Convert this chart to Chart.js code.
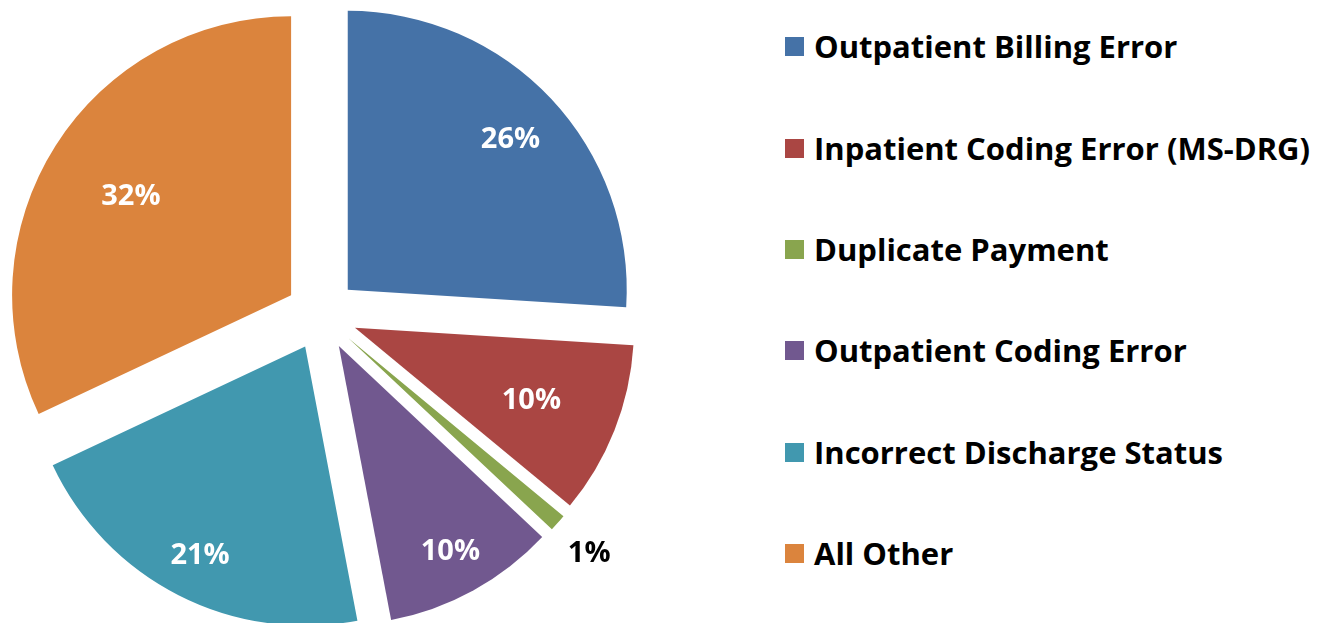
<!DOCTYPE html>
<html>
<head>
<meta charset="utf-8">
<title>Overpayment causes</title>
<script src="https://cdn.jsdelivr.net/npm/chart.js"></script>
<style>
  html, body { margin: 0; padding: 0; background: #fff; overflow: hidden; }
  #wrap { position: absolute; left: 0; top: 0; width: 700px; height: 623px; }
  #legend {
    position: absolute; left: 785px; top: -4px;
    font-family: "Open Sans", sans-serif; font-weight: 700; font-size: 31px; color: #000;
  }
  .row { height: 101.4px; display: flex; align-items: center; white-space: nowrap; line-height: 1; }
  .box { width: 19px; height: 19px; margin-right: 10px; flex: none; }
</style>
</head>
<body>
<div id="wrap"><canvas id="chart" width="700" height="623"></canvas></div>
<div id="legend"></div>

<script>
// data
const categories = [
  'Outpatient Billing Error',
  'Inpatient Coding Error (MS-DRG)',
  'Duplicate Payment',
  'Outpatient Coding Error',
  'Incorrect Discharge Status',
  'All Other'
];
const percents = [26, 10, 1, 10, 21, 32];

// styles
const colors = ['#4572A7', '#AA4643', '#89A54E', '#71588F', '#4198AF', '#DB843D'];
const labelColors = ['#fff', '#fff', '#000', '#fff', '#fff', '#fff'];
// where each % label sits, part of the radius measured from the slice tip
const labelDist = [0.80, 0.68, 1.15, 0.83, 0.83, 0.68];

const RADIUS = 279;
const OFFSET = 144; // chart.js v4 moves the arc by offset/4

// v4 shrinks/grows thin slices when offset is set (uses the circumference),
// the reference has plain exploded slices so neutralise that
const sliceFix = {
  id: 'sliceFix',
  beforeDatasetsDraw(chart) {
    chart.getDatasetMeta(0).data.forEach(arc => {
      arc.circumference = Math.PI / 2;
    });
  }
};

// % labels
const pctLabels = {
  id: 'pctLabels',
  afterDatasetsDraw(chart) {
    const c = chart.ctx;
    c.save();
    c.font = 'bold 29px "Open Sans", sans-serif';
    c.textAlign = 'center';
    c.textBaseline = 'middle';
    chart.getDatasetMeta(0).data.forEach((arc, i) => {
      const mid = (arc.startAngle + arc.endAngle) / 2;
      const d = OFFSET / 4 + labelDist[i] * RADIUS;
      c.fillStyle = labelColors[i];
      c.fillText(percents[i] + '%', arc.x + Math.cos(mid) * d, arc.y + Math.sin(mid) * d + 3);
    });
    c.restore();
  }
};

const ctx = document.getElementById('chart').getContext('2d');
const myChart = new Chart(ctx, {
  type: 'pie',
  data: {
    labels: categories,
    datasets: [{
      data: percents,
      backgroundColor: colors,
      borderWidth: 0,
      offset: OFFSET
    }]
  },
  options: {
    responsive: false,
    animation: false,
    events: [],
    radius: RADIUS,
    layout: { padding: { left: 0, right: 57, top: 6, bottom: 0 } },
    plugins: {
      legend: { display: false },
      tooltip: { enabled: false }
    }
  },
  plugins: [sliceFix, pctLabels]
});

// legend on the right
const legend = document.getElementById('legend');
categories.forEach((name, i) => {
  const row = document.createElement('div');
  row.className = 'row';
  const box = document.createElement('span');
  box.className = 'box';
  box.style.background = colors[i];
  const txt = document.createElement('span');
  txt.textContent = name;
  row.appendChild(box);
  row.appendChild(txt);
  legend.appendChild(row);
});
</script>
</body>
</html>
